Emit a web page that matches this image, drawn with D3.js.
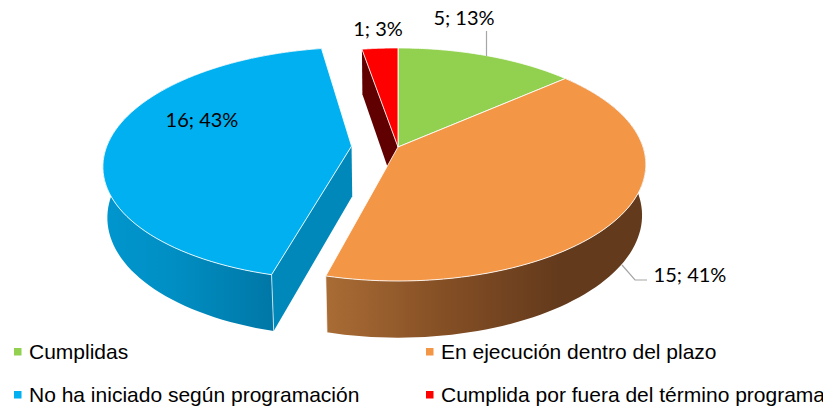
<!DOCTYPE html>
<html>
<head>
<meta charset="utf-8">
<script src="https://cdn.jsdelivr.net/npm/d3@7"></script>
<style>
  html, body { margin: 0; padding: 0; background: #fff; }
  svg { display: block; }
</style>
</head>
<body>
<div id="chart"></div>
<script>
var categories = ["Cumplidas", "En ejecución dentro del plazo", "No ha iniciado según programación", "Cumplida por fuera del término programado"]
var values = [5, 15, 16, 1]
var percents = [13, 41, 43, 3]
var topColors = ["#92d050", "#f39646", "#00b0f0", "#ff0000"]

var width = 823
var height = 410

var svg = d3.select("#chart").append("svg")
  .attr("width", width)
  .attr("height", height)

var defs = svg.append("defs")

function addGradient(id, x1, x2, stops) {
  var g = defs.append("linearGradient")
    .attr("id", id)
    .attr("gradientUnits", "userSpaceOnUse")
    .attr("x1", x1).attr("x2", x2)
    .attr("y1", 0).attr("y2", 0)
  stops.forEach(function (s) {
    g.append("stop").attr("offset", s[0]).attr("stop-color", s[1])
  })
}
addGradient("orangeWall", 326, 560, [[0, "#a96c35"], [0.5, "#854f25"], [1, "#633a1c"]])
addGradient("blueWall", 103, 273, [[0, "#0096ce"], [0.4, "#008fc4"], [1, "#0077a6"]])

// perspective of the disc, u/v are unit disc coords (v grows towards viewer)
var cx = 398, cy = 147, rx = 245, ry = 113.9, k = 0.15
var depth = 51, shrink = 0.015

function project(u, v, bottom) {
  var w = 1 - k * v + (bottom ? shrink : 0)
  return [cx + rx * u / w, cy + (ry * v + (bottom ? depth : 0)) / w]
}

var pie = d3.pie().sort(null).value(function (d) { return d })
var arcs = pie(values)

// the blue slice is pulled out to the left
var explode = [0, 0, 0.19, 0]

function offsetOf(d) {
  var mid = (d.startAngle + d.endAngle) / 2
  var e = explode[d.index]
  return [e * Math.sin(mid), -e * Math.cos(mid)]
}

function rimPoint(d, a, bottom) {
  var o = offsetOf(d)
  return project(Math.sin(a) + o[0], -Math.cos(a) + o[1], bottom)
}

function apexPoint(d, bottom) {
  var o = offsetOf(d)
  return project(o[0], o[1], bottom)
}

function rim(d, bottom) {
  var n = 80
  return d3.range(n + 1).map(function (i) {
    return rimPoint(d, d.startAngle + (d.endAngle - d.startAngle) * i / n, bottom)
  })
}

var line = d3.line()

function closed(pts) { return line(pts) + "Z" }

var marks = svg.append("g")

// red radial wall goes first, it sits behind everything
marks.append("path")
  .attr("d", closed([apexPoint(arcs[3]), rimPoint(arcs[3], arcs[3].startAngle), rimPoint(arcs[3], arcs[3].startAngle, true), apexPoint(arcs[3], true)]))
  .attr("fill", "#600000")

// blue radial face
marks.append("path")
  .attr("d", closed([apexPoint(arcs[2]), rimPoint(arcs[2], arcs[2].startAngle), rimPoint(arcs[2], arcs[2].startAngle, true), apexPoint(arcs[2], true)]))
  .attr("fill", "#0088bb")

// outer walls
marks.append("path")
  .attr("d", closed(rim(arcs[1]).concat(rim(arcs[1], true).reverse())))
  .attr("fill", "url(#orangeWall)")
marks.append("path")
  .attr("d", closed(rim(arcs[2]).concat(rim(arcs[2], true).reverse())))
  .attr("fill", "url(#blueWall)")

// wall corner highlights
;[1, 2].forEach(function (i) {
  var a = arcs[i].index == 1 ? arcs[i].endAngle : arcs[i].startAngle
  marks.append("path")
    .attr("d", line([rimPoint(arcs[i], a), rimPoint(arcs[i], a, true)]))
    .attr("stroke", "#fff").attr("stroke-opacity", 0.7).attr("stroke-width", 1).attr("fill", "none")
})

// top faces
marks.selectAll("path.top")
  .data(arcs)
  .enter()
  .append("path")
  .attr("class", "top")
  .attr("d", function (d) { return closed([apexPoint(d)].concat(rim(d))) })
  .attr("fill", function (d, i) { return topColors[i] })
  .attr("stroke", "#fff")
  .attr("stroke-opacity", 0.85)
  .attr("stroke-width", 1)
  .attr("stroke-linejoin", "round")

// leader lines
var leaders = [
  [[486.5, 31], [486.5, 56]],
  [[622, 265], [635, 280], [647, 280]]
]
svg.selectAll("path.leader")
  .data(leaders)
  .enter()
  .append("path")
  .attr("class", "leader")
  .attr("d", function (d) { return line(d) })
  .attr("fill", "none")
  .attr("stroke", "#a6a6a6")
  .attr("stroke-width", 1.2)

// data labels, same order as values
var labelX = [464, 690, 202, 378]
var labelY = [25, 282, 127, 36]
svg.selectAll("text.label")
  .data(values)
  .enter()
  .append("text")
  .attr("class", "label")
  .attr("x", function (d, i) { return labelX[i] })
  .attr("y", function (d, i) { return labelY[i] })
  .attr("text-anchor", "middle")
  .attr("font-family", "Lato, sans-serif")
  .attr("font-size", 20)
  .attr("fill", "#000")
  .text(function (d, i) { return d + "; " + percents[i] + "%" })

// legend
var legendX = [14, 426, 14, 426]
var legendY = [359, 359, 402, 402]
var legend = svg.selectAll("g.legend")
  .data(categories)
  .enter()
  .append("g")
  .attr("class", "legend")
  .attr("transform", function (d, i) { return "translate(" + legendX[i] + "," + legendY[i] + ")" })

legend.append("rect")
  .attr("x", 0).attr("y", -11)
  .attr("width", 7.5).attr("height", 7.5)
  .attr("fill", function (d, i) { return topColors[i] })

legend.append("text")
  .attr("x", 15)
  .attr("y", 0)
  .attr("font-family", "'Liberation Sans Narrow', 'Liberation Sans', sans-serif")
  .attr("font-size", 21)
  .attr("fill", "#000")
  .text(function (d) { return d })
</script>
</body>
</html>
